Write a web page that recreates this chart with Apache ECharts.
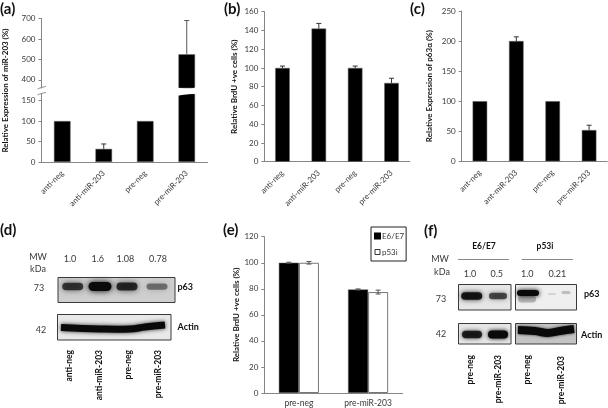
<!DOCTYPE html>
<html><head><meta charset="utf-8">
<style>html,body{margin:0;padding:0;background:#fff}#c{width:608px;height:408px;filter:blur(0.3px)}</style>
<script src="https://cdn.jsdelivr.net/npm/echarts@6/dist/echarts.min.js"></script>
</head><body><div id="c"></div>
<script>
// ---- data ----
const catsA = ['anti-neg','anti-miR-203','pre-neg','pre-miR-203'];
const valsA = [100,32,100,525];
const errA  = [0,12,0,165];
const catsB = ['anti-neg','anti-miR-203','pre-neg','pre-miR-203'];
const valsB = [100,142,100,84];
const errB  = [2,5.5,2,5];
const catsC = ['ant-neg','ant-miR-203','pre-neg','pre-miR-203'];
const valsC = [100,200,100,52];
const errC  = [0,7,0,8];
const catsE = ['pre-neg','pre-miR-203'];
const valsE1 = [100,79.5];
const valsE2 = [100,77.5];
const errE1 = [0.4,0.4];
const errE2 = [1,1.5];
const ratiosD = ['1.0','1.6','1.08','0.78'];
const ratiosF = ['1.0','0.5','1.0','0.21'];
const blotP63D = [0.72,1,0.8,0.45];
const blotP63F = [0.9,0.65,1,0.12];
const blotActinF = [0.85,1];

const FF = 'Lato';
const TXT = '#383838', AX = '#868686', BK='#000';
const grids=[], xs=[], ys=[], series=[], g=[];

function addAxes(box, cats, yOpt, xOpt){
  const i=grids.length;
  grids.push({left:box[0],top:box[1],width:box[2],height:box[3],containLabel:false});
  xs.push(Object.assign({type:'category',gridIndex:i,data:cats,
    axisLine:{lineStyle:{color:AX,width:1}},
    axisTick:{alignWithLabel:false,length:3,lineStyle:{color:AX}},
    axisLabel:{color:TXT,fontSize:8,fontFamily:FF,rotate:45,margin:10,interval:0},
    splitLine:{show:false}},xOpt||{}));
  ys.push(Object.assign({type:'value',gridIndex:i,
    axisLine:{show:true,lineStyle:{color:AX,width:1}},
    axisTick:{show:true,length:3,lineStyle:{color:AX}},
    axisLabel:{color:TXT,fontSize:8,fontFamily:FF,margin:6},
    nameTextStyle:{color:'#111',fontSize:8,fontWeight:'bold',fontFamily:FF},
    nameLocation:'middle',nameRotate:90,
    splitLine:{show:false}},yOpt||{}));
  return i;
}
function addBars(i, vals, opt){
  series.push(Object.assign({type:'bar',xAxisIndex:i,yAxisIndex:i,data:vals,barWidth:'40%',
    itemStyle:{color:BK,borderColor:'#666',borderWidth:0.5},silent:true,animation:false},opt||{}));
}
function addErr(i, vals, errs, opt){
  opt=opt||{};
  const shift=opt.shift||0, color=opt.color||'#333', limit=opt.limit===undefined?Infinity:opt.limit;
  const data=vals.map((v,k)=>[k,v,errs[k]]).filter(d=>d[1]!=null&&d[2]>0&&d[1]+d[2]<=limit);
  series.push({type:'custom',xAxisIndex:i,yAxisIndex:i,data:data,encode:{x:0,y:1},silent:true,animation:false,z:5,
    renderItem:function(p,api){
      const c=api.value(0),v=api.value(1),e=api.value(2);
      const top=api.coord([c,v+e]),bot=api.coord([c,v-(opt.both?e:0)]);
      const x=top[0]+api.size([1,0])[0]*shift;
      const st={stroke:color,lineWidth:1,fill:null};
      const kids=[{type:'line',shape:{x1:x,y1:top[1],x2:x,y2:bot[1]},style:st},
                  {type:'line',shape:{x1:x-2.5,y1:top[1],x2:x+2.5,y2:top[1]},style:st}];
      if(opt.both)kids.push({type:'line',shape:{x1:x-2.5,y1:bot[1],x2:x+2.5,y2:bot[1]},style:st});
      return {type:'group',children:kids};
    }});
}
function txt(s,x,y,o){
  o=o||{};
  g.push({type:'text',x:x,y:y,rotation:o.rot||0,z:20,silent:true,
    style:{text:s,fill:o.color||TXT,font:(o.bold?'bold ':'')+(o.size||9)+'px '+FF,
      textAlign:o.align||'center',textVerticalAlign:o.va||'middle'}});
}

// panel (a): broken axis, two stacked grids with their own scales
const aUp=addAxes([41.5,18.5,166,69.5],catsA,
  {min:360,max:700,axisTick:{show:true,length:3,lineStyle:{color:AX},customValues:[400,500,600,700]},
   axisLabel:{color:TXT,fontSize:8,fontFamily:FF,margin:6,customValues:[400,500,600,700]}},
  {show:false});
addBars(aUp,valsA.map(v=>v>360?v:null));
addErr(aUp,valsA.map(v=>v>360?v:null),errA,{color:'#555'});
const aLow=addAxes([41.5,94,166,68],catsA,
  {min:0,max:166,axisTick:{show:true,length:3,lineStyle:{color:AX},customValues:[0,50,100,150]},
   axisLabel:{color:TXT,fontSize:8,fontFamily:FF,margin:6,customValues:[0,50,100,150]}});
addBars(aLow,valsA);
addErr(aLow,valsA,errA,{limit:166,color:'#333'});
txt('Relative Expression of miR-203 (%)',5.5,90.5,{bold:true,size:8,rot:Math.PI/2,color:'#111'});
// axis-break marks
[88,94].forEach(y=>g.push({type:'polyline',z:15,silent:true,
  shape:{smooth:0.6,points:[[37.5,y+1],[41.5,y-.5],[46,y-1.5]]},style:{stroke:AX,lineWidth:1,fill:null}}));
g.push({type:'polygon',z:12,silent:true,
  shape:{smooth:0.3,points:[[174,87.5],[182,88.5],[190,89.5],[198,86.5],[198,92.5],[190,94],[182,95],[174,95.5]]},
  style:{fill:'#fff'}});

// panel (b)
const bI=addAxes([264.3,11.7,145.4,150],catsB,{min:0,max:160,interval:20,name:'Relative BrdU +ve cells (%)',nameGap:26});
addBars(bI,valsB); addErr(bI,valsB,errB);
// panel (c)
const cI=addAxes([461.7,11,145.6,150.3],catsC,{min:0,max:250,interval:50,name:'Relative Expression of p63α (%)',nameGap:28});
addBars(cI,valsC); addErr(cI,valsC,errC);
// panel (e)
const eI=addAxes([264.3,236.7,138.4,156.6],catsE,{min:0,max:120,interval:20,name:'Relative BrdU +ve cells (%)',nameGap:23},
  {axisLabel:{color:TXT,fontSize:8.5,fontFamily:FF,rotate:0,margin:6,interval:0}});
addBars(eI,valsE1,{name:'E6/E7',barWidth:'29%',barGap:'0%'});
addBars(eI,valsE2,{name:'p53i',barWidth:'29%',barGap:'0%',itemStyle:{color:'#fff',borderColor:'#777',borderWidth:1}});
addErr(eI,valsE1,errE1,{shift:-0.145,both:true,color:'#555'});
addErr(eI,valsE2,errE2,{shift:0.145,both:true,color:'#555'});

// panel letters
[['(a)',0,9],['(b)',224,9],['(c)',410,9],['(d)',0,230],['(e)',223,230],['(f)',424,231]].forEach(p=>
  txt(p[0],p[1],p[2],{bold:true,size:15,align:'left',color:'#111'}));

// western blots, drawn as plain decoration
function box(x,y,w,h,bg){
  g.push({type:'rect',z:8,silent:true,shape:{x:x,y:y,width:w,height:h},style:{fill:bg||'#dcdcdc'}});
}
function frame(x,y,w,h){
  g.push({type:'rect',z:11,silent:true,shape:{x:x,y:y,width:w,height:h},style:{fill:null,stroke:'#3a3a3a',lineWidth:1}});
}
function band(cx,cy,w,h,a,blur){
  g.push({type:'rect',z:9,silent:true,shape:{x:cx-w/2,y:cy-h/2,width:w,height:h,r:h/2},
    style:{fill:'rgba(10,10,10,'+a+')',shadowBlur:blur||6,shadowColor:'rgba(0,0,0,'+a+')'}});
}
function smear(points,w,blur){
  g.push({type:'polyline',z:9,silent:true,shape:{smooth:0.4,points:points},
    style:{fill:null,stroke:'#0a0a0a',lineWidth:w,shadowBlur:blur,shadowColor:'rgba(0,0,0,0.8)'}});
}
// (d)
box(58,277.5,117,25,'#cfcfcf');
[72.7,100,127,157].forEach((x,i)=>{const a=blotP63D[i];band(x,286.5,i==1?23:21,4+a*5,a);});
frame(58,277.5,117,25);
box(57.5,314.5,113.5,25.5,'#e8e8e8');
smear([[61,327.5],[100,329],[130,329],[145,327],[165,325]],7,4);
frame(57.5,314.5,113.5,25.5);
// (f)
box(458.5,284.5,52.5,25.5,'#e6e6e6');
[471.7,498].forEach((x,i)=>band(x,296,i?18:21,4+4*blotP63F[i],blotP63F[i],5));
frame(458.5,284.5,52.5,25.5);
box(515.5,284.5,61,25.5,'#efefef');
band(528,293,22,6,blotP63F[2],5);
band(527,299,18,7,0.25,6);
band(552,294,8,2,blotP63F[3],4);band(566,292.5,9,3,blotP63F[3]+0.08,4);
frame(515.5,284.5,61,25.5);
box(458.5,323.5,52.5,20.5,'#e6e6e6');
[472,498].forEach((x,i)=>band(x,334.5,20,4+4*blotActinF[i],blotActinF[i],4));
frame(458.5,323.5,52.5,20.5);
box(515.5,323.5,61,20.5,'#c4c4c4');
smear([[518,330],[535,331],[548,333],[560,331],[574,329]],8,3);
frame(515.5,323.5,61,20.5);

// (d) labels
txt('MW',38,257,{size:9});txt('kDa',38,269,{size:9});
[70,97.7,125.3,158].forEach((x,i)=>txt(ratiosD[i],x,259,{size:9}));
txt('73',39,288,{size:9});txt('42',41,330,{size:9});
txt('p63',177.5,287,{bold:true,size:9,align:'left',color:'#111'});
txt('Actin',177.5,327,{bold:true,size:9,align:'left',color:'#111'});
[69.3,99,128,158].forEach((x,i)=>txt(catsA[i],x,350,{bold:true,size:8.5,rot:Math.PI/2,align:'right',color:'#111'}));
// (f) labels
txt('E6/E7',484,246,{bold:true,size:8.5,color:'#111'});txt('p53i',545,246,{bold:true,size:8.5,color:'#111'});
[[458,509],[521.7,573]].forEach(l=>g.push({type:'line',z:8,silent:true,shape:{x1:l[0],y1:259.5,x2:l[1],y2:259.5},style:{stroke:'#888',lineWidth:1}}));
txt('MW',440,259.5,{size:9});txt('kDa',442,272.5,{size:9});
[470,496.7,527.3,557.3].forEach((x,i)=>txt(ratiosF[i],x,274.5,{size:9}));
txt('73',441,299,{size:9});txt('42',441,334,{size:9});
txt('p63',591.7,294.5,{bold:true,size:9,color:'#111'});txt('Actin',591.7,335,{bold:true,size:9,color:'#111'});
const labelsF=['pre-neg','pre-miR-203','pre-neg','pre-miR-203'];
[470,498,527.3,561.7].forEach((x,i)=>txt(labelsF[i],x,i==3?356:355,{bold:true,size:8.5,rot:Math.PI/2,align:'right',color:'#111'}));

const chart=echarts.init(document.getElementById('c'),null,{renderer:'canvas'});
chart.setOption({animation:false,backgroundColor:'#fff',grid:grids,xAxis:xs,yAxis:ys,series:series,graphic:{elements:g},
  legend:{data:[{name:'E6/E7',itemStyle:{color:'#000',borderColor:'#000'}},{name:'p53i',itemStyle:{color:'#fff',borderColor:'#333',borderWidth:1}}],
    orient:'vertical',left:371,top:227,padding:[5,2,5,3],width:32,itemWidth:5,itemHeight:5,itemGap:8,icon:'rect',
    borderColor:'#222',borderWidth:1,selectedMode:false,
    textStyle:{color:TXT,fontSize:8,fontFamily:FF,padding:[0,0,0,-3]}}
});
</script></body></html>
